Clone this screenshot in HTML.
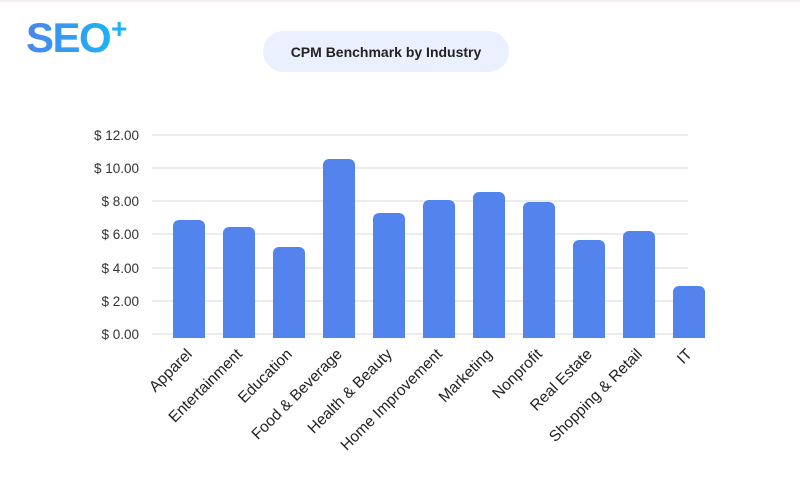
<!DOCTYPE html>
<html><head><style>
html,body{margin:0;padding:0;background:#fff;}
svg{display:block;}
</style></head><body>
<svg width="800" height="500" xmlns="http://www.w3.org/2000/svg">
<defs><linearGradient id="g" x1="0" x2="1"><stop offset="0" stop-color="#4a86ec"/><stop offset="1" stop-color="#1cb2f5"/></linearGradient></defs>
<rect x="0" y="0" width="800" height="500" fill="#fff"/>
<line x1="0" y1="1" x2="800" y2="1" stroke="#f6eef0" stroke-width="2"/>
<text x="26" y="52" font-family="Liberation Sans, sans-serif" font-weight="bold" font-size="42" fill="url(#g)" letter-spacing="-1.5">SEO</text>
<text x="111" y="38" font-family="Liberation Sans, sans-serif" font-weight="bold" font-size="28" fill="#1cb2f5">+</text>
<rect x="263" y="31" width="246" height="41" rx="20.5" fill="#eaf0fd"/>
<text x="386" y="57" text-anchor="middle" font-family="Liberation Sans, sans-serif" font-weight="bold" font-size="14" fill="#222">CPM Benchmark by Industry</text>
<g stroke="#e6e6e6" stroke-width="1.5">
<line x1="152" x2="688" y1="135" y2="135"/><line x1="152" x2="688" y1="168" y2="168"/><line x1="152" x2="688" y1="201" y2="201"/><line x1="152" x2="688" y1="234" y2="234"/><line x1="152" x2="688" y1="268" y2="268"/><line x1="152" x2="688" y1="301" y2="301"/><line x1="152" x2="688" y1="334" y2="334"/>
</g>
<g font-family="Liberation Sans, sans-serif" font-size="13.5" fill="#333" text-anchor="end">
<text x="139" y="140">$ 12.00</text><text x="139" y="173">$ 10.00</text><text x="139" y="206">$ 8.00</text><text x="139" y="239">$ 6.00</text><text x="139" y="273">$ 4.00</text><text x="139" y="306">$ 2.00</text><text x="139" y="339">$ 0.00</text>
</g>
<g fill="#5383ec">
<path d="M173 338V226a6 6 0 0 1 6-6h20a6 6 0 0 1 6 6V338z"/>
<path d="M223 338V233a6 6 0 0 1 6-6h20a6 6 0 0 1 6 6V338z"/>
<path d="M273 338V253a6 6 0 0 1 6-6h20a6 6 0 0 1 6 6V338z"/>
<path d="M323 338V165a6 6 0 0 1 6-6h20a6 6 0 0 1 6 6V338z"/>
<path d="M373 338V219a6 6 0 0 1 6-6h20a6 6 0 0 1 6 6V338z"/>
<path d="M423 338V206a6 6 0 0 1 6-6h20a6 6 0 0 1 6 6V338z"/>
<path d="M473 338V198a6 6 0 0 1 6-6h20a6 6 0 0 1 6 6V338z"/>
<path d="M523 338V208a6 6 0 0 1 6-6h20a6 6 0 0 1 6 6V338z"/>
<path d="M573 338V246a6 6 0 0 1 6-6h20a6 6 0 0 1 6 6V338z"/>
<path d="M623 338V237a6 6 0 0 1 6-6h20a6 6 0 0 1 6 6V338z"/>
<path d="M673 338V292a6 6 0 0 1 6-6h20a6 6 0 0 1 6 6V338z"/>
</g>
<g font-family="Liberation Sans, sans-serif" font-size="15.5" fill="#222" text-anchor="end">
<text transform="translate(193,355) rotate(-45)">Apparel</text>
<text transform="translate(243,355) rotate(-45)">Entertainment</text>
<text transform="translate(293,355) rotate(-45)">Education</text>
<text transform="translate(343,355) rotate(-45)">Food &amp; Beverage</text>
<text transform="translate(393,355) rotate(-45)">Health &amp; Beauty</text>
<text transform="translate(443,355) rotate(-45)">Home Improvement</text>
<text transform="translate(493,355) rotate(-45)">Marketing</text>
<text transform="translate(543,355) rotate(-45)">Nonprofit</text>
<text transform="translate(593,355) rotate(-45)">Real Estate</text>
<text transform="translate(643,355) rotate(-45)">Shopping &amp; Retail</text>
<text transform="translate(693,355) rotate(-45)">IT</text>
</g>
</svg>
</body></html>
